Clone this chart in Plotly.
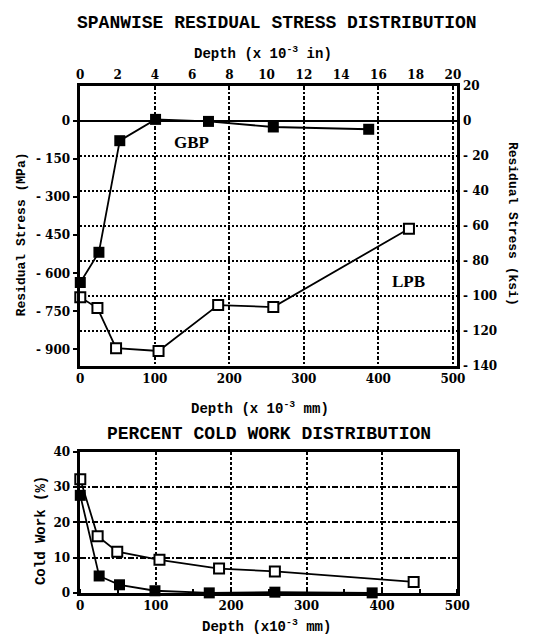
import plotly.graph_objects as go

# ---- data (depth in 1e-3 mm, stress in MPa, cold work in %) ----
gbp_depth = [0, 25, 53, 101, 172, 259, 387]
gbp_stress = [-636, -517, -77, 7, -1, -23, -32]
lpb_depth = [0, 23, 48, 105, 185, 259, 441]
lpb_stress = [-694, -737, -895, -906, -725, -733, -424]

cw_gbp_depth = [0, 25, 52, 99, 171, 258, 387]
cw_gbp = [27.7, 4.8, 2.3, 0.6, 0, 0.2, 0]
cw_lpb_depth = [0, 23, 49, 105, 184, 258, 442]
cw_lpb = [32.3, 16.1, 11.7, 9.4, 6.9, 6.1, 3.1]

mpa_ticks = [0, -150, -300, -450, -600, -750, -900]
ksi_ticks = [20, 0, -20, -40, -60, -80, -100, -120, -140]
in_ticks = [0, 2, 4, 6, 8, 10, 12, 14, 16, 18, 20]
mm_ticks = [0, 100, 200, 300, 400, 500]
cw_ticks = [0, 10, 20, 30, 40]

W, H = 534, 639
def px(x):
    return x / W
def py(y):
    return 1 - y / H

TICKFONT = dict(family="DejaVu Serif", size=12, color="black", weight="bold")
MONO = "Liberation Mono"

def lab(v):
    return str(v) if v >= 0 else "- " + str(-v)

fig = go.Figure()

# ---- top plot traces ----
fig.add_trace(go.Scatter(
    x=gbp_depth, y=gbp_stress, mode="lines+markers", xaxis="x", yaxis="y",
    line=dict(color="black", width=1.8),
    marker=dict(symbol="square", size=11, color="black"),
    cliponaxis=False, showlegend=False))
fig.add_trace(go.Scatter(
    x=lpb_depth, y=lpb_stress, mode="lines+markers", xaxis="x", yaxis="y",
    line=dict(color="black", width=1.8),
    marker=dict(symbol="square", size=10, color="white",
                line=dict(color="black", width=2)),
    cliponaxis=False, showlegend=False))
# empty trace so the secondary (inch / ksi) axes get drawn
fig.add_trace(go.Scatter(x=[], y=[], xaxis="x2", yaxis="y2",
                         showlegend=False, hoverinfo="skip"))

# ---- bottom plot traces ----
fig.add_trace(go.Scatter(
    x=cw_gbp_depth, y=cw_gbp, mode="lines+markers", xaxis="x3", yaxis="y3",
    line=dict(color="black", width=1.8),
    marker=dict(symbol="square", size=11, color="black"),
    cliponaxis=False, showlegend=False))
fig.add_trace(go.Scatter(
    x=cw_lpb_depth, y=cw_lpb, mode="lines+markers", xaxis="x3", yaxis="y3",
    line=dict(color="black", width=1.8),
    marker=dict(symbol="square", size=10, color="white",
                line=dict(color="black", width=2)),
    cliponaxis=False, showlegend=False))

top_dom_x = [px(78.8), px(468.3)]
top_dom_y = [py(366.7), py(81)]
bot_dom_y = [py(599), py(455)]

axline = dict(showline=True, linecolor="black", linewidth=2.5)

fig.update_layout(
    width=W, height=H, autosize=False,
    margin=dict(l=0, r=0, t=0, b=0),
    paper_bgcolor="white", plot_bgcolor="white",
    xaxis=dict(domain=top_dom_x, anchor="y", range=[0, 506],
               tickvals=mm_ticks, ticktext=[str(v) for v in mm_ticks],
               tickfont=TICKFONT, ticks="", ticklen=4,
               showgrid=True, gridcolor="black", gridwidth=1.8,
               griddash="4px,2px,2px,2px", zeroline=False, **axline),
    xaxis2=dict(overlaying="x", side="top", anchor="y", range=[0, 506 / 25.0],
                tickvals=in_ticks, ticktext=[str(v) for v in in_ticks],
                tickfont=TICKFONT, ticks="", showgrid=False, zeroline=False,
                **axline),
    yaxis=dict(domain=top_dom_y, anchor="x", range=[-964, 137.7],
               tickvals=mpa_ticks, ticktext=[lab(v) for v in mpa_ticks],
               tickfont=TICKFONT, ticks="outside", ticklen=5, tickwidth=2,
               tickcolor="black", showgrid=False, zeroline=False, **axline),
    yaxis2=dict(overlaying="y", side="right", anchor="x", range=[-140, 20],
                tickvals=ksi_ticks, showticklabels=False, ticks="",
                showgrid=True, gridcolor="black",
                gridwidth=1.8, griddash="2px,2px",
                zeroline=True, zerolinecolor="black", zerolinewidth=2.2,
                **axline),
    xaxis3=dict(domain=top_dom_x, anchor="y3", range=[0, 500],
                tickvals=mm_ticks, ticktext=[str(v) for v in mm_ticks],
                tickfont=TICKFONT, ticks="", mirror=True,
                minor=dict(dtick=50, tick0=0, ticks="inside", ticklen=4,
                           tickwidth=2, tickcolor="black", showgrid=False),
                showgrid=True, gridcolor="black", gridwidth=1.8,
                griddash="3px,2px", zeroline=False, **axline),
    yaxis3=dict(domain=bot_dom_y, anchor="x3", range=[0, 40],
                tickvals=cw_ticks, ticktext=[str(v) for v in cw_ticks],
                tickfont=TICKFONT, ticks="outside", ticklen=5, tickwidth=2,
                tickcolor="black", mirror=True,
                showgrid=True, gridcolor="black", gridwidth=1.8,
                griddash="6px,2px,2px,2px", zeroline=False, **axline),
)

ann = []
def text(x, y, s, size, family=MONO, angle=0, weight="bold"):
    ann.append(dict(x=px(x), y=py(y), xref="paper", yref="paper", text=s,
                    showarrow=False, textangle=angle,
                    xanchor="center", yanchor="middle",
                    font=dict(family=family, size=size, color="black",
                              weight=weight)))

text(282, 16, "SPANWISE RESIDUAL STRESS DISTRIBUTION", 18)
text(267, 47, "Depth (x 10<sup>-3</sup> in)", 14)
text(264, 410, "Depth (x 10<sup>-3</sup> mm)", 14)
text(19, 232, "Residual Stress (MPa)", 13, angle=-90)
text(526, 222, "Residual Stress (ksi)", 13, angle=90)
text(274, 437, "PERCENT COLD WORK DISTRIBUTION", 18)
text(271, 633, "Depth (x10<sup>-3</sup> mm)", 14)
text(39, 535, "Cold Work (%)", 14, angle=-90)

# right-hand (ksi) tick labels, placed on the ksi axis
for v in ksi_ticks:
    ann.append(dict(x=px(473), y=v, xref="paper", yref="y2", text=lab(v),
                    showarrow=False, xanchor="left", yanchor="middle",
                    borderpad=0, font=TICKFONT))

# series labels, placed in data coordinates
ann.append(dict(x=149, y=-86, xref="x", yref="y", text="GBP", showarrow=False,
                font=dict(family="Liberation Serif", size=17, color="black",
                          weight="bold")))
ann.append(dict(x=441, y=-634, xref="x", yref="y", text="LPB", showarrow=False,
                font=dict(family="Liberation Serif", size=17, color="black",
                          weight="bold")))
fig.update_layout(annotations=ann)

fig.write_html("out.html", config={"displayModeBar": False},
               post_script="document.body.style.margin='0';document.body.style.overflow='hidden';")
